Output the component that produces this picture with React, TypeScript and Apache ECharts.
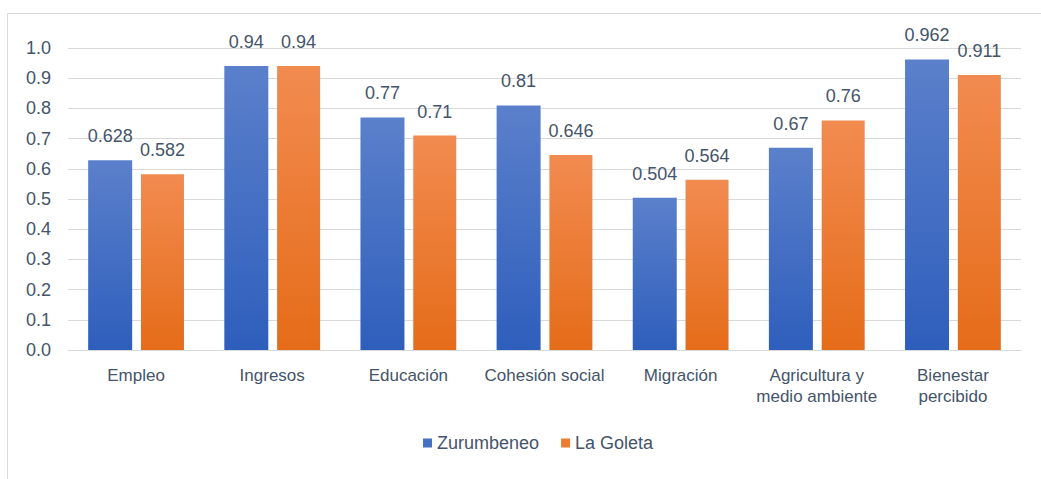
import React, { useEffect, useRef } from "react";
import * as echarts from "echarts";

const categories = [
  "Empleo",
  "Ingresos",
  "Educación",
  "Cohesión social",
  "Migración",
  "Agricultura y\nmedio ambiente",
  "Bienestar\npercibido",
];
const zurumbeneo = [0.628, 0.94, 0.77, 0.81, 0.504, 0.67, 0.962];
const laGoleta = [0.582, 0.94, 0.71, 0.646, 0.564, 0.76, 0.911];

const textColor = "#44546A";
const font = "'Liberation Sans', Arial, sans-serif";

export default function App() {
  const ref = useRef<HTMLDivElement>(null);
  useEffect(() => {
    if (!ref.current) return;
    const chart = echarts.init(ref.current, undefined, { renderer: "svg" });
    const blueGrad = new echarts.graphic.LinearGradient(0, 0, 0, 1, [
      { offset: 0, color: "#5B80CB" },
      { offset: 1, color: "#2E5EBC" },
    ]);
    const orangeGrad = new echarts.graphic.LinearGradient(0, 0, 0, 1, [
      { offset: 0, color: "#F28B50" },
      { offset: 1, color: "#E56C19" },
    ]);
    const label = {
      show: true,
      position: "top" as const,
      distance: 15,
      color: textColor,
      fontSize: 18,
      fontFamily: font,
      formatter: (p: any) => String(p.value),
    };
    chart.setOption({
      animation: false,
      backgroundColor: "#fff",
      textStyle: { fontFamily: font },
      graphic: [
        {
          type: "rect",
          shape: { x: 7.5, y: 13.5, width: 1040, height: 480 },
          style: { fill: "none", stroke: "#D9D9D9", lineWidth: 1 },
          silent: true,
        },
      ],
      grid: { left: 68, right: 20, top: 48, bottom: 129 },
      legend: {
        bottom: 22,
        left: 418,
        itemWidth: 9,
        itemHeight: 9,
        itemGap: 22,
        icon: "rect",
        textStyle: { color: textColor, fontSize: 18, fontFamily: font },
        data: [
          { name: "Zurumbeneo", itemStyle: { color: "#4571C4" } },
          { name: "La Goleta", itemStyle: { color: "#ED7D31" } },
        ],
      },
      xAxis: {
        type: "category",
        data: categories,
        axisLine: { lineStyle: { color: "#D9D9D9" } },
        axisTick: { show: false },
        axisLabel: {
          color: textColor,
          fontSize: 17,
          fontFamily: font,
          margin: 15,
          lineHeight: 21,
          interval: 0,
        },
      },
      yAxis: {
        type: "value",
        min: 0,
        max: 1,
        interval: 0.1,
        axisLine: { show: false },
        axisTick: { show: false },
        splitLine: { lineStyle: { color: "#D9D9D9" } },
        axisLabel: {
          color: textColor,
          fontSize: 18,
          fontFamily: font,
          margin: 17,
          formatter: (v: number) => v.toFixed(1),
        },
      },
      series: [
        {
          name: "Zurumbeneo",
          type: "bar",
          data: zurumbeneo,
          barWidth: 44,
          barGap: "20%",
          itemStyle: { color: blueGrad },
          label,
        },
        {
          name: "La Goleta",
          type: "bar",
          data: laGoleta,
          barWidth: 43,
          barGap: "20%",
          itemStyle: { color: orangeGrad },
          label,
        },
      ],
    });
    return () => chart.dispose();
  }, []);
  return (
    <div
      ref={ref}
      style={{ position: "fixed", left: 0, top: 0, width: 1041, height: 479 }}
    />
  );
}
